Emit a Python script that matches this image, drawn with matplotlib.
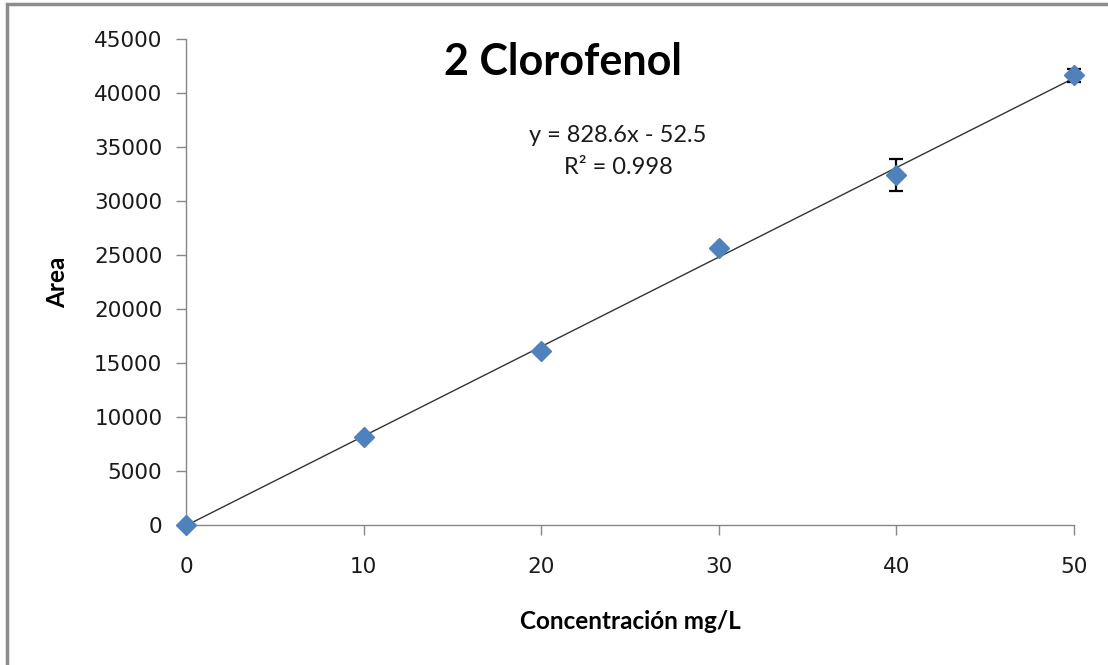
import matplotlib

matplotlib.use("Agg")
import matplotlib.pyplot as plt
from matplotlib.patches import Rectangle
import numpy as np

# Calibration data: concentration (mg/L) vs. peak area
conc = [0, 10, 20, 30, 40, 50]
area = [0, 8150, 16100, 25650, 32400, 41650]
area_err = [0, 0, 0, 0, 1450, 600]

slope, intercept = 828.6, -52.5
r2 = 0.998

BLUE = "#4F81BD"
AXIS_GRAY = "#878787"
TEXT_FONT = ["Lato", "DejaVu Sans"]

fig = plt.figure(figsize=(11.08, 6.65), dpi=100)
ax = fig.add_axes([0.1679, 0.2105, 0.9693 - 0.1679, 0.9414 - 0.2105])

# outer chart frame
fig.patches.append(Rectangle((7 / 1108, -0.1), 1.2, 1 - 4 / 665 + 0.1,
                             transform=fig.transFigure, fill=False,
                             edgecolor="#8c8c8c", linewidth=2.5))

xfit = np.array([0, 50])
ax.plot(xfit, slope * xfit + intercept, color="#333333", linewidth=1.0, zorder=2)

ax.errorbar(conc, area, yerr=area_err, fmt="none", ecolor="black",
            elinewidth=1.6, capsize=5, capthick=1.6, zorder=3, clip_on=False)
ax.plot(conc, area, linestyle="none", marker="D", markersize=10,
        color=BLUE, markeredgecolor=BLUE, zorder=4, clip_on=False)

ax.set_xlim(0, 50)
ax.set_ylim(0, 45000)
ax.set_xticks(np.arange(0, 51, 10))
ax.set_yticks(np.arange(0, 45001, 5000))

for side in ("top", "right"):
    ax.spines[side].set_visible(False)
for side in ("left", "bottom"):
    ax.spines[side].set_color(AXIS_GRAY)
    ax.spines[side].set_linewidth(1.0)

ax.tick_params(axis="both", colors=AXIS_GRAY, labelcolor="#1a1a1a",
               labelsize=15.5, direction="out", length=7, width=1.0)
ax.tick_params(axis="x", pad=16)
ax.tick_params(axis="y", pad=10)

ax.set_xlabel("Concentración mg/L", fontsize=17.5, fontweight="bold",
              family=TEXT_FONT, labelpad=24)
ax.set_ylabel("Area", fontsize=17.5, fontweight="bold", family=TEXT_FONT,
              labelpad=18)

fig.text(563 / 1108, 1 - 62 / 665, "2 Clorofenol", fontsize=31,
         fontweight="bold", family=TEXT_FONT, ha="center", va="center")

ax.text(618 / 1108, 1 - 135 / 665, f"y = {slope}x - {abs(intercept)}",
        transform=fig.transFigure, fontsize=17, family=TEXT_FONT,
        ha="center", va="center", color="#1a1a1a")
ax.text(618 / 1108, 1 - 167 / 665, f"R² = {r2}",
        transform=fig.transFigure, fontsize=17, family=TEXT_FONT,
        ha="center", va="center", color="#1a1a1a")

fig.savefig("out.png", dpi=100)
